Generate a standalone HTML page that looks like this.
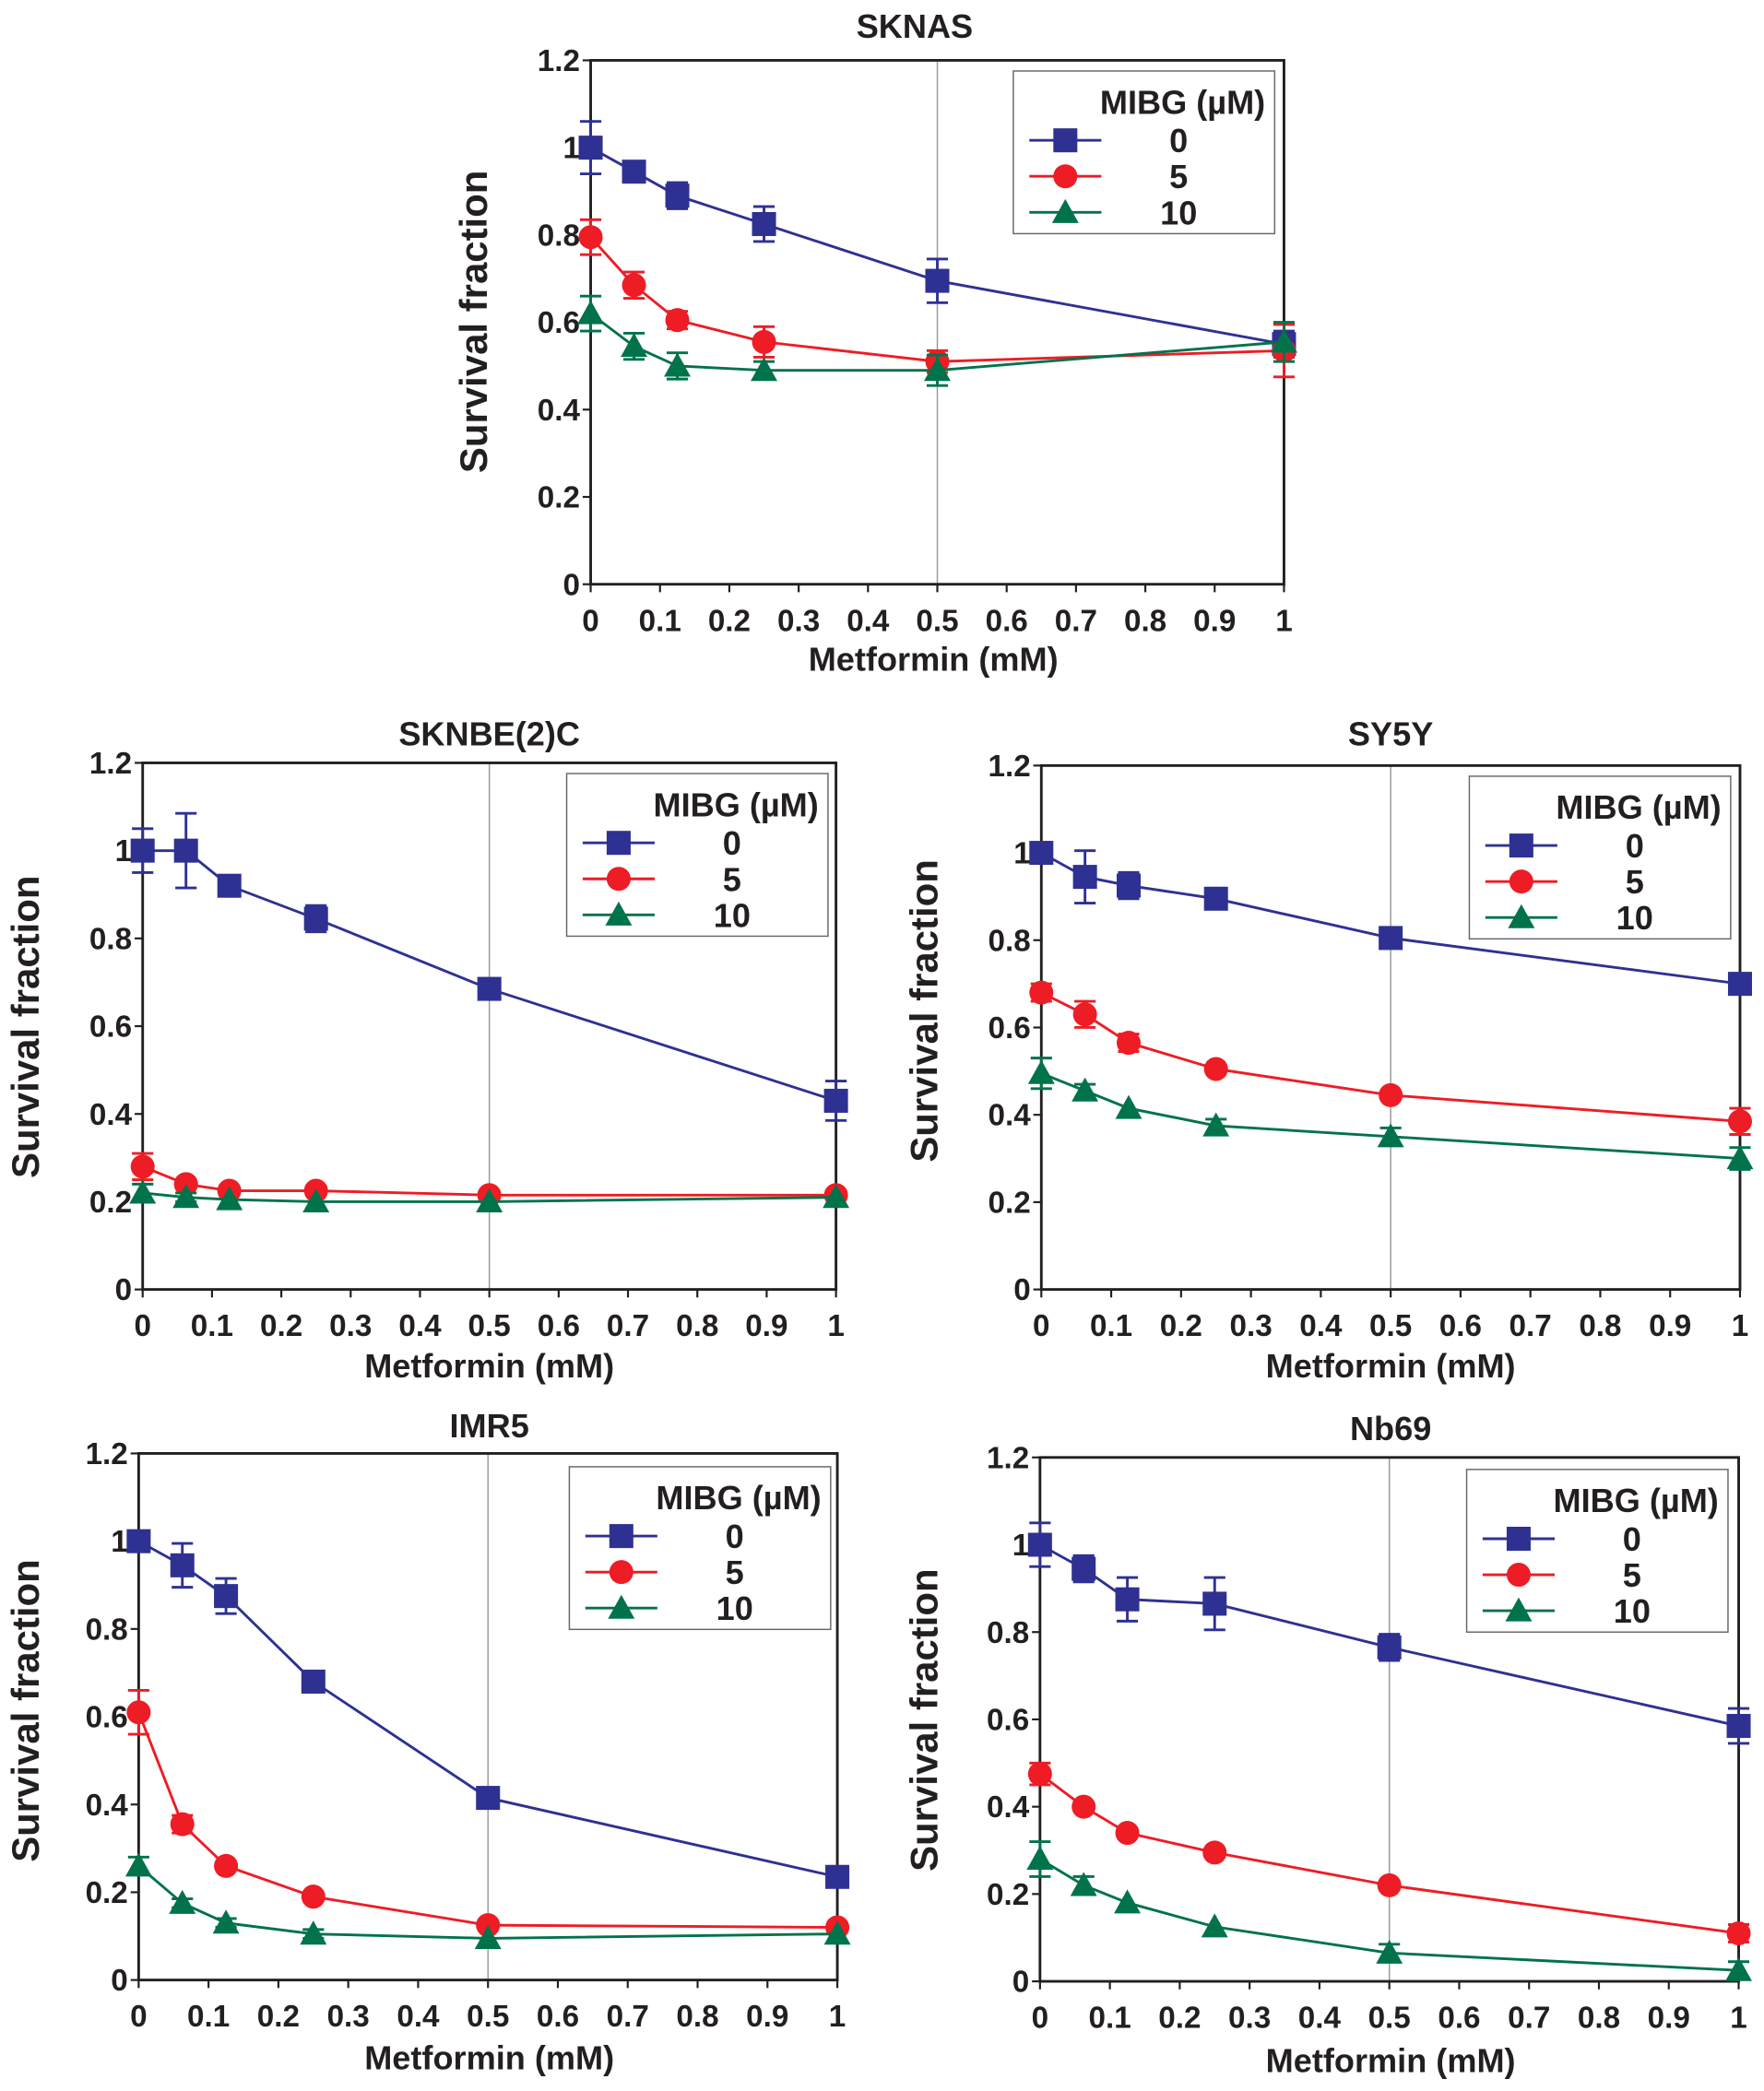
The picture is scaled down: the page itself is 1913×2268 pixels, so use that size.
<!DOCTYPE html>
<html><head><meta charset="utf-8"><style>
html,body{margin:0;padding:0;background:#fff}
svg{display:block}
text{font-family:"Liberation Sans",sans-serif;font-weight:bold;fill:#231f20}
</style></head><body>
<svg id="s" width="1913" height="2268" viewBox="0 0 1323 1568" xmlns="http://www.w3.org/2000/svg">
<text x="686" y="28" font-size="25" text-anchor="middle">SKNAS</text>
<text x="367" y="559" font-size="25" text-anchor="middle">SKNBE(2)C</text>
<text x="1043" y="559" font-size="25" text-anchor="middle">SY5Y</text>
<text x="367" y="1078" font-size="25" text-anchor="middle">IMR5</text>
<text x="1043" y="1080" font-size="25" text-anchor="middle">Nb69</text>
<text x="700" y="503" font-size="25" text-anchor="middle">Metformin (mM)</text>
<text x="367" y="1033" font-size="25" text-anchor="middle">Metformin (mM)</text>
<text x="1043" y="1033" font-size="25" text-anchor="middle">Metformin (mM)</text>
<text x="367" y="1552" font-size="25" text-anchor="middle">Metformin (mM)</text>
<text x="1043" y="1554" font-size="25" text-anchor="middle">Metformin (mM)</text>
<text transform="translate(365,241) rotate(-90)" font-size="29" text-anchor="middle">Survival fraction</text>
<text transform="translate(29,770) rotate(-90)" font-size="29" text-anchor="middle">Survival fraction</text>
<text transform="translate(703,758) rotate(-90)" font-size="29" text-anchor="middle">Survival fraction</text>
<text transform="translate(29,1283) rotate(-90)" font-size="29" text-anchor="middle">Survival fraction</text>
<text transform="translate(703,1290) rotate(-90)" font-size="29" text-anchor="middle">Survival fraction</text>
</svg>
<script>
var S=document.getElementById('s'),NS='http://www.w3.org/2000/svg';
function el(t,a,txt){var e=document.createElementNS(NS,t);for(var k in a)e.setAttribute(k,a[k]);if(txt!==undefined)e.textContent=txt;S.appendChild(e);return e;}
var C=['#2e3192','#ee1c25','#00734a'];
var X=[0,0.0625,0.125,0.25,0.5,1];
function mk(i,x,y){
 if(i==0)el('rect',{x:x-9,y:y-9,width:18,height:18,fill:C[0]});
 else if(i==1)el('circle',{cx:x,cy:y,r:9,fill:C[1]});
 else el('polygon',{points:(x)+','+(y-10)+' '+(x-10)+','+(y+8)+' '+(x+10)+','+(y+8),fill:C[2]});
}
function panel(x0,x1,yt,yb,leg,data){
 var px=function(v){return x0+(x1-x0)*v},py=function(v){return yb-(yb-yt)*v/1.2};
 el('line',{x1:px(0.5),y1:yt,x2:px(0.5),y2:yb,stroke:'#999','stroke-width':1});
 el('rect',{x:x0,y:yt,width:x1-x0,height:yb-yt,fill:'none',stroke:'#231f20','stroke-width':2});
 for(var i=0;i<=10;i++){var xx=px(i/10);el('line',{x1:xx,y1:yb,x2:xx,y2:yb+6,stroke:'#231f20','stroke-width':1.5});
  el('text',{x:xx,y:yb+35,'font-size':23,'text-anchor':'middle'},i==0?'0':i==10?'1':'0.'+i);}
 for(var j=0;j<=6;j++){var v=j*0.2,yy=py(v);el('line',{x1:x0-6,y1:yy,x2:x0,y2:yy,stroke:'#231f20','stroke-width':1.5});
  el('text',{x:x0-8,y:yy+8,'font-size':23,'text-anchor':'end'},j==0?'0':j==5?'1':(j==6?'1.2':'0.'+(2*j)));}
 el('rect',{x:leg[0],y:leg[1],width:196,height:122,fill:'#fff',stroke:'#666','stroke-width':1});
 el('text',{x:leg[0]+189,y:leg[1]+32,'font-size':25,'text-anchor':'end'},'MIBG (\u00b5M)');
 var lb=['0','5','10'];
 for(var i=0;i<3;i++){var ly=leg[1]+52+i*27;el('line',{x1:leg[0]+12,y1:ly,x2:leg[0]+66,y2:ly,stroke:C[i],'stroke-width':2});mk(i,leg[0]+39,ly);
  el('text',{x:leg[0]+124,y:ly+9,'font-size':25,'text-anchor':'middle'},lb[i]);}
 for(var s=0;s<3;s++){var d=data[s],pts=[];
  for(var k=0;k<6;k++){pts.push(px(X[k])+','+py(d[k][0]));}
  el('polyline',{points:pts.join(' '),fill:'none',stroke:C[s],'stroke-width':2});
  for(var k=0;k<6;k++){var e=d[k][1]||0;if(e>0.008){var xx=px(X[k]),a=py(d[k][0]+e),b=py(d[k][0]-e);
   el('path',{d:'M'+xx+' '+a+'V'+b+'M'+(xx-8)+' '+a+'h16M'+(xx-8)+' '+b+'h16',stroke:C[s],'stroke-width':2,fill:'none'});}}
  for(var k=0;k<6;k++)mk(s,px(X[k]),py(d[k][0]));
 }
}
panel(443,963,45,438,[760,53],[
 [[1,.06],[.945,.015],[.89,.03],[.825,.04],[.695,.05],[.55,.03]],
 [[.795,.04],[.685,.03],[.605,.02],[.555,.035],[.51,.025],[.535,.06]],
 [[.62,.04],[.545,.03],[.5,.03],[.49,.02],[.49,.035],[.555,.045]]]);
panel(107,627,572,967,[425,580],[
 [[1,.05],[1,.085],[.92,.01],[.845,.03],[.685,.02],[.43,.045]],
 [[.28,.03],[.24,.01],[.225,.01],[.225,.01],[.215,0],[.215,.01]],
 [[.22,.02],[.21,.01],[.205,0],[.2,0],[.2,0],[.21,0]]]);
panel(781,1305,574,967,[1102,582],[
 [[1,0],[.945,.06],[.925,.03],[.895,.015],[.805,.02],[.7,0]],
 [[.68,.02],[.63,.03],[.565,.02],[.505,0],[.445,0],[.385,.03]],
 [[.495,.035],[.455,.015],[.415,0],[.375,.015],[.35,.02],[.3,.025]]]);
panel(104,628,1090,1485,[427,1100],[
 [[1,0],[.945,.05],[.875,.04],[.68,.02],[.415,0],[.235,0]],
 [[.61,.05],[.355,.02],[.26,0],[.19,0],[.125,0],[.12,.01]],
 [[.26,.02],[.175,.01],[.13,.01],[.105,.01],[.095,0],[.105,0]]]);
panel(780,1304,1093,1486,[1100,1102],[
 [[1,.05],[.945,.03],[.875,.05],[.865,.06],[.765,.03],[.585,.04]],
 [[.475,.025],[.4,.01],[.34,0],[.295,0],[.22,0],[.11,.02]],
 [[.28,.04],[.22,.02],[.18,0],[.125,0],[.065,.02],[.025,.02]]]);
</script>
</body></html>
